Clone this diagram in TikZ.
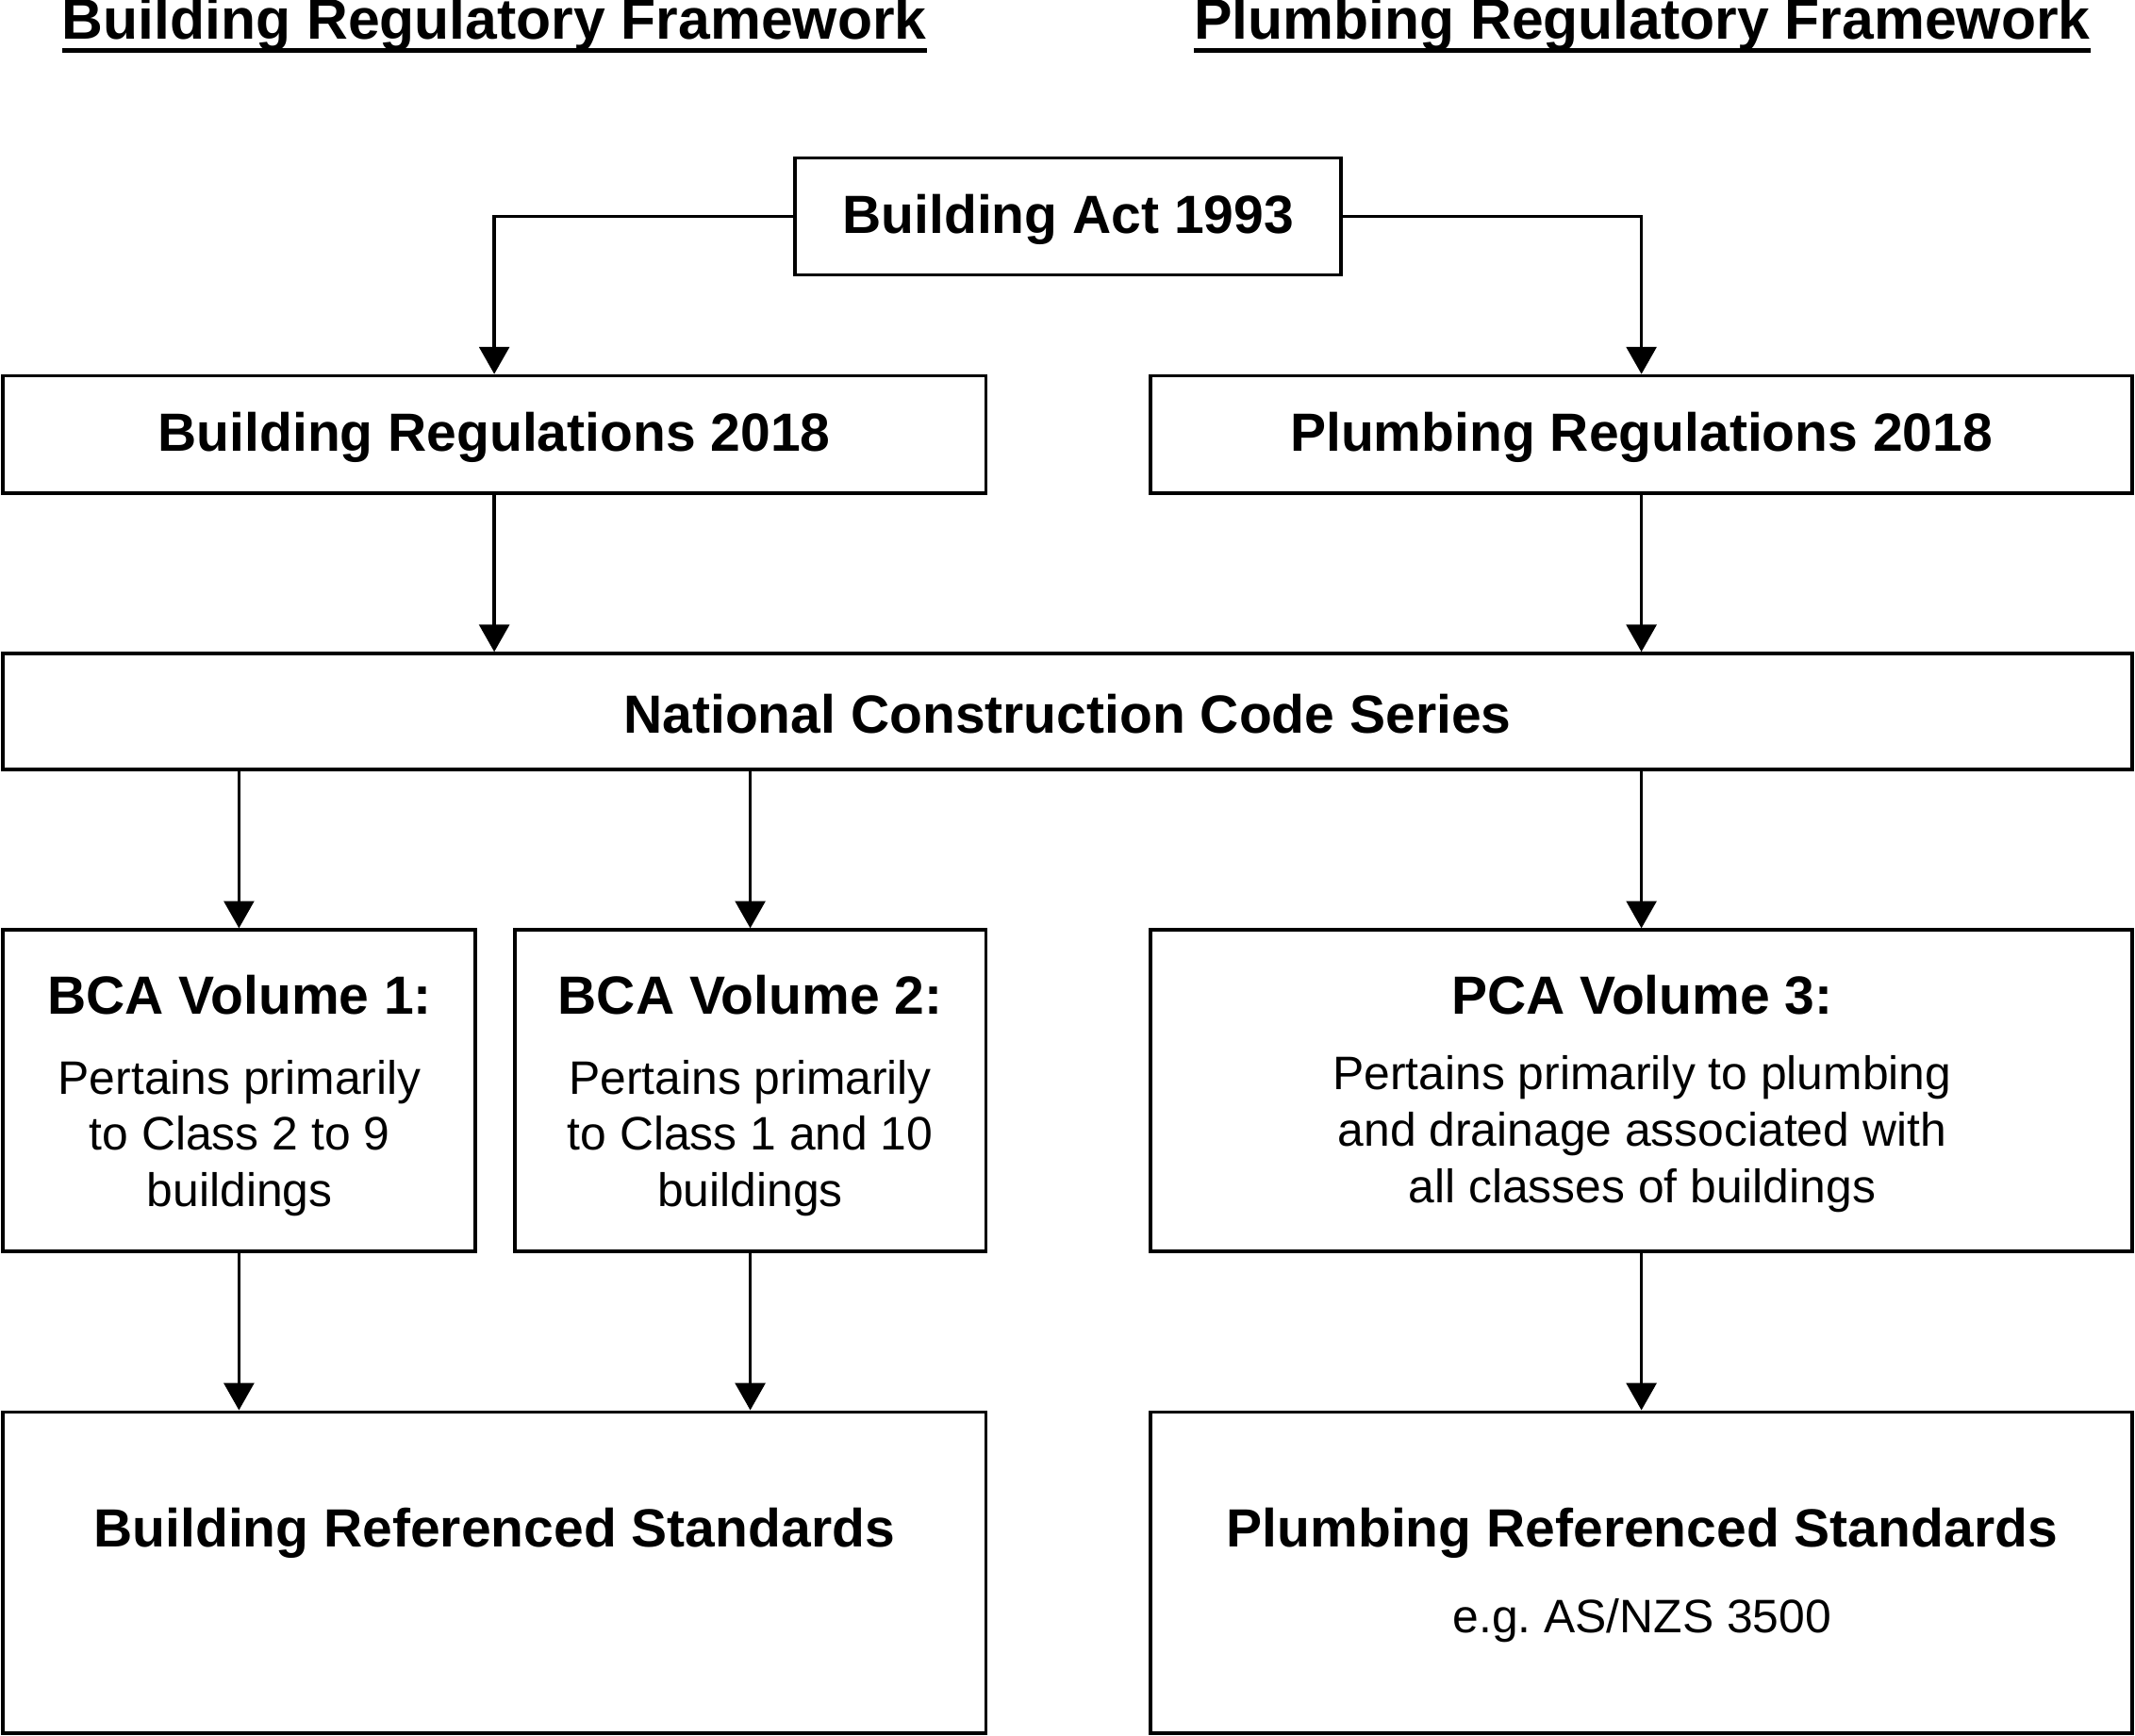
\documentclass[tikz,border=0pt]{standalone}
\usepackage{fontspec}
\setmainfont{Liberation Sans}
\usetikzlibrary{arrows.meta}
\begin{document}
\begin{tikzpicture}[x=1pt,y=-1pt,
  box/.style={draw,line width=2.5pt,inner sep=0pt},
  bt/.style={font=\fontsize{39.5}{44}\selectfont\bfseries,inner sep=0pt},
  tt/.style={font=\fontsize{42}{46}\selectfont\bfseries,inner sep=0pt},
  rt/.style={font=\fontsize{34.5}{41.5}\selectfont,align=center,inner sep=0pt},
  arr/.style={line width=2.5pt,-{Triangle[width=22pt,length=20pt]}}]
\useasboundingbox (0,0) rectangle (1568,1275);
\newcommand\bx[5]{\node[box,minimum width=#4-#2,minimum height=#5-#3] (#1) at ({(#2+#4)/2},{(#3+#5)/2}) {};}
\bx{act}{584}{116}{985}{202}
\bx{breg}{2}{276}{724}{362}
\bx{preg}{845}{276}{1566}{362}
\bx{ncc}{2}{480}{1566}{565}
\bx{v1}{2}{683}{349}{919}
\bx{v2}{378}{683}{724}{919}
\bx{v3}{845}{683}{1566}{919}
\bx{brs}{2}{1037}{724}{1273}
\bx{prs}{845}{1037}{1566}{1273}
\node[tt,anchor=base] (t1) at (363,29) {Building Regulatory Framework};
\node[tt,anchor=base] (t2) at (1206,29) {Plumbing Regulatory Framework};
\draw[line width=3pt] (t1.west|-0,37) -- (t1.east|-0,37);
\draw[line width=3pt] (t2.west|-0,37) -- (t2.east|-0,37);
\node[bt] at ([yshift=-2pt]act.center) {Building Act 1993};
\node[bt] at ([yshift=-2pt]breg.center) {Building Regulations 2018};
\node[bt] at ([yshift=-2pt]preg.center) {Plumbing Regulations 2018};
\node[bt] at ([yshift=-2pt]ncc.center) {National Construction Code Series};
\node[bt] (v1t) at (176,731) {BCA Volume 1:};
\node[bt] (v2t) at (551,731) {BCA Volume 2:};
\node[bt] (v3t) at (1206,731) {PCA Volume 3:};
\node[rt] (v1b) at (176,836) {Pertains primarily\\to Class 2 to 9\\buildings};
\node[rt] (v2b) at (551,836) {Pertains primarily\\to Class 1 and 10\\buildings};
\node[rt] (v3b) at (1206,833) {Pertains primarily to plumbing\\and drainage associated with\\all classes of buildings};
\node[bt] (brst) at (363,1126) {Building Referenced Standards};
\node[bt] (prst) at (1206,1126) {Plumbing Referenced Standards};
\node[rt] (prsb) at (1206,1190) {e.g.\ AS/NZS 3500};
\draw[arr] (act.west) -| (breg.north);
\draw[arr] (act.east) -| (preg.north);
\draw[arr] (breg.south) -- (breg.south|-ncc.north);
\draw[arr] (preg.south) -- (preg.south|-ncc.north);
\draw[arr] (v1.north|-ncc.south) -- (v1.north);
\draw[arr] (v2.north|-ncc.south) -- (v2.north);
\draw[arr] (preg.south|-ncc.south) -- (preg.south|-v3.north);
\draw[arr] (v1.south) -- (v1.south|-brs.north);
\draw[arr] (v2.south) -- (v2.south|-brs.north);
\draw[arr] (preg.south|-v3.south) -- (preg.south|-prs.north);
\end{tikzpicture}
\end{document}
